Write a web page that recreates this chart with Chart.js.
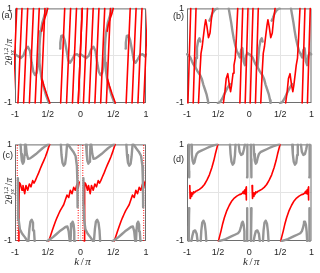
<!DOCTYPE html>
<html><head><meta charset="utf-8">
<script src="https://cdn.jsdelivr.net/npm/chart.js@4.4.0/dist/chart.umd.min.js"></script>
<style>
html,body{margin:0;padding:0;background:#fff;}
#wrap{position:relative;width:320px;height:273px;overflow:hidden;background:#fff;}
canvas{position:absolute;}
</style></head><body>
<div id="wrap">
<canvas id="ca" width="160" height="136" style="left:0;top:0;width:160px;height:136px"></canvas>
<canvas id="cb" width="160" height="136" style="left:160px;top:0;width:160px;height:136px"></canvas>
<canvas id="cc" width="160" height="137" style="left:0;top:136px;width:160px;height:137px"></canvas>
<canvas id="cd" width="160" height="137" style="left:160px;top:136px;width:160px;height:137px"></canvas>
</div>
<script>
// ---- axis ticks / labels ----
const xTickValues = [-1, -0.5, 0, 0.5, 1];
const xTickLabels = ['-1', '1/2', '0', '1/2', '1'];
const yTickValues = [-1, 0, 1];
const yTickLabels = ['-1', '', '1'];
const panelLabels = ['(a)', '(b)', '(c)', '(d)'];

// ---- panel (a): one period k in [-1,0] (repeated on the second period axis) ----
const aRedBottom = [-1.035, -0.955, -0.868, -0.78, -0.692, -0.605, -0.303, -0.213, -0.123, -0.035];
const aRedTop    = [-0.973, -0.893, -0.806, -0.718, -0.63, -0.543, -0.241, -0.151, -0.061, 0.027];
const aRedArcTop = [[-0.50,1.0],[-0.522,0.88],[-0.548,0.78],[-0.575,0.66],[-0.592,0.52]];
const aRedArcBottom = [[-0.585,-0.5],[-0.557,-0.64],[-0.52,-0.8],[-0.468,-1.0]];
const aGrayArc = [[-0.516,1],[-0.55,0.85],[-0.583,0.70],[-0.605,0.52],[-0.618,0.37],[-0.627,0.18],[-0.628,0.03],[-0.624,-0.15],[-0.613,-0.31],[-0.595,-0.48],[-0.567,-0.64],[-0.53,-0.82],[-0.481,-1.0]];
const aGrayWiggleL = [[-1.0,0.03],[-0.964,0.0],[-0.913,-0.05],[-0.873,0.0],[-0.837,0.13],[-0.802,0.19],[-0.771,0.10],[-0.746,-0.14],[-0.72,-0.34],[-0.695,-0.41],[-0.669,-0.36],[-0.649,-0.2],[-0.634,-0.04],[-0.628,0.03]];
const aGrayWiggleR = [[-0.312,0.15],[-0.308,0.27],[-0.293,0.42],[-0.267,0.43],[-0.242,0.33],[-0.211,0.10],[-0.186,-0.10],[-0.16,-0.15],[-0.125,-0.07],[-0.089,0.02],[-0.049,0.03],[-0.013,-0.02],[0.0,0.03]];

// ---- panel (b) ----
const bRedBottom = [-0.985, -0.90, -0.15, -0.065];
const bRedTop    = [-0.94, -0.855, -0.105, -0.02];
const bRedJagL = [[-0.815,-1],[-0.79,-0.3],[-0.775,0.05],[-0.755,0.2],[-0.74,0.37],[-0.715,0.64],[-0.70,0.76],[-0.68,0.62],[-0.655,0.38],[-0.63,0.48],[-0.61,0.75],[-0.585,1]];
const bRedJagR = [[-0.415,-1],[-0.39,-0.75],[-0.37,-0.48],[-0.345,-0.38],[-0.32,-0.62],[-0.30,-0.76],[-0.285,-0.64],[-0.26,-0.37],[-0.245,-0.2],[-0.225,-0.05],[-0.21,0.3],[-0.185,1]];
const bGrayL = [[-1.0,0.03],[-0.97,0.0],[-0.944,-0.04],[-0.92,-0.12],[-0.903,-0.17],[-0.867,-0.24],[-0.83,-0.33],[-0.79,-0.41],[-0.76,-0.5],[-0.738,-0.61],[-0.71,-0.72],[-0.687,-0.81],[-0.665,-0.94],[-0.658,-1]];
const bGrayBranch = [[-0.867,-0.24],[-0.855,-0.05],[-0.84,0.165],[-0.82,0.32],[-0.80,0.37],[-0.785,0.30]];
const bGrayTopArc = [[-0.64,0.74],[-0.62,0.8],[-0.59,0.9],[-0.56,0.96],[-0.53,0.99],[-0.51,1.0]];
const bGrayBottomArc = [[-0.505,-1],[-0.47,-0.98],[-0.43,-0.9],[-0.39,-0.78],[-0.35,-0.68],[-0.31,-0.6]];
const bGrayR = [[-0.33,1],[-0.31,0.85],[-0.29,0.70],[-0.27,0.52],[-0.25,0.37],[-0.225,0.22],[-0.2,0.1],[-0.17,0.02],[-0.15,-0.04],[-0.13,0.12],[-0.11,0.16],[-0.09,-0.12],[-0.07,-0.2],[-0.05,0.0],[-0.03,0.06],[-0.015,0.04],[0.0,0.03]];

// ---- panel (c) ----
const cRedDotted = [-0.965, -0.035];
const cRedL = [[-0.945,-1.0],[-0.94,-0.4],[-0.934,0.21],[-0.919,0.18],[-0.893,0.05],[-0.878,0.15],[-0.852,-0.02],[-0.832,0.15],[-0.806,0.05],[-0.781,0.18],[-0.756,0.12],[-0.73,0.25],[-0.71,0.2],[-0.69,0.25],[-0.665,0.33],[-0.639,0.41],[-0.613,0.5],[-0.588,0.58],[-0.562,0.66],[-0.537,0.74],[-0.51,0.84],[-0.486,0.94],[-0.47,1.0]];
const cRedR = [[-0.486,-1.0],[-0.46,-0.9],[-0.435,-0.8],[-0.41,-0.7],[-0.384,-0.6],[-0.36,-0.52],[-0.334,-0.44],[-0.31,-0.37],[-0.283,-0.31],[-0.257,-0.25],[-0.232,-0.15],[-0.206,-0.05],[-0.18,-0.1],[-0.155,0.05],[-0.13,-0.02],[-0.104,0.11],[-0.079,0.05],[-0.053,0.18],[-0.035,0.1],[-0.02,0.22]];
const cGrayEdgeL = [[-0.81,-1.0],[-0.85,-0.92],[-0.89,-0.85],[-0.925,-0.76],[-0.945,-0.55],[-0.952,-0.25],[-0.955,0.05],[-0.956,0.3]];
const cGrayEdgeR = [[-0.19,1.0],[-0.15,0.92],[-0.11,0.85],[-0.075,0.76],[-0.055,0.55],[-0.048,0.25],[-0.045,-0.05],[-0.044,-0.3]];
const cGrayU1 = [[-0.915,1.0],[-0.905,0.8],[-0.895,0.66],[-0.88,0.6],[-0.865,0.64],[-0.855,0.78],[-0.848,1.0]];
const cGrayU2 = [[-0.835,1.0],[-0.82,0.8],[-0.80,0.7],[-0.77,0.71],[-0.73,0.75],[-0.68,0.8],[-0.63,0.86],[-0.58,0.92],[-0.53,0.97],[-0.49,1.0]];
const cGrayU3 = [[-0.30,1.0],[-0.29,0.78],[-0.275,0.62],[-0.255,0.56],[-0.235,0.6],[-0.22,0.75],[-0.205,1.0]];
const cGrayU1b = [[-0.085,-1.0],[-0.095,-0.8],[-0.105,-0.66],[-0.12,-0.6],[-0.135,-0.64],[-0.145,-0.78],[-0.152,-1.0]];
const cGrayU2b = [[-0.165,-1.0],[-0.18,-0.8],[-0.20,-0.7],[-0.23,-0.71],[-0.27,-0.75],[-0.32,-0.8],[-0.37,-0.86],[-0.42,-0.92],[-0.47,-0.97],[-0.51,-1.0]];
const cGrayU3b = [[-0.70,-1.0],[-0.71,-0.78],[-0.725,-0.62],[-0.745,-0.56],[-0.765,-0.6],[-0.78,-0.75],[-0.795,-1.0]];

// ---- panel (d) ----
const dRedL = [[-0.955,0.15],[-0.95,-0.12],[-0.945,0.02],[-0.935,-0.08],[-0.925,0.0],[-0.91,-0.04],[-0.895,0.02],[-0.88,0.0],[-0.86,0.03],[-0.84,0.04],[-0.80,0.07],[-0.76,0.11],[-0.72,0.17],[-0.68,0.26],[-0.64,0.37],[-0.60,0.52],[-0.57,0.66],[-0.545,0.8],[-0.525,0.9],[-0.505,1.0]];
const dRedR = [[-0.495,-1.0],[-0.475,-0.9],[-0.455,-0.8],[-0.43,-0.66],[-0.40,-0.52],[-0.36,-0.37],[-0.32,-0.26],[-0.28,-0.17],[-0.24,-0.11],[-0.20,-0.07],[-0.16,-0.04],[-0.13,-0.03],[-0.11,-0.01],[-0.095,0.03],[-0.085,-0.02],[-0.07,0.06],[-0.06,-0.03],[-0.052,0.1],[-0.048,-0.15],[-0.045,0.12]];
const dGrayVL = [[-0.972,1.0],[-0.97,0.7],[-0.967,0.45],[-0.964,0.32]];
const dGrayVLb = [[-0.964,-0.32],[-0.967,-0.45],[-0.97,-0.7],[-0.972,-1.0]];
const dGrayVR = [[-0.028,-1.0],[-0.03,-0.7],[-0.033,-0.45],[-0.036,-0.32]];
const dGrayVRb = [[-0.036,0.32],[-0.033,0.45],[-0.03,0.7],[-0.028,1.0]];
const dGrayU1 = [[-0.93,1.0],[-0.922,0.8],[-0.91,0.66],[-0.895,0.6],[-0.88,0.63],[-0.865,0.72],[-0.845,0.8],[-0.82,0.84],[-0.77,0.87],[-0.72,0.9],[-0.67,0.93],[-0.62,0.96],[-0.57,0.98],[-0.52,1.0]];
const dGrayU1b = [[-0.07,-1.0],[-0.078,-0.8],[-0.09,-0.66],[-0.105,-0.6],[-0.12,-0.63],[-0.135,-0.72],[-0.155,-0.8],[-0.18,-0.84],[-0.23,-0.87],[-0.28,-0.9],[-0.33,-0.93],[-0.38,-0.96],[-0.43,-0.98],[-0.48,-1.0]];
const dGrayU2 = [[-0.31,1.0],[-0.3,0.8],[-0.285,0.64],[-0.265,0.58],[-0.245,0.62],[-0.23,0.78],[-0.22,1.0]];
const dGrayU2b = [[-0.69,-1.0],[-0.70,-0.8],[-0.715,-0.64],[-0.735,-0.58],[-0.755,-0.62],[-0.77,-0.78],[-0.78,-1.0]];
const dGrayU3 = [[-0.17,1.0],[-0.155,0.85],[-0.13,0.78],[-0.105,0.8],[-0.085,0.9],[-0.07,1.0]];
const dGrayU3b = [[-0.83,-1.0],[-0.845,-0.85],[-0.87,-0.78],[-0.895,-0.8],[-0.915,-0.9],[-0.93,-1.0]];

// ---- helpers ----
const RED = 'rgb(255,0,0)';
const GRAY = 'rgb(150,150,150)';
function lineCurves(bottoms, tops) { return bottoms.map((b, i) => [[b, -1], [tops[i], 1]]); }
function vertCurves(ks) { return ks.map(k => [[k, -1], [k, 1]]); }
function curveSets(curves, color, width, dash) {
  const out = [];
  for (const axis of ['x', 'xp']) {
    for (const c of curves) {
      out.push({
        data: c.map(p => ({x: p[0], y: p[1]})),
        xAxisID: axis, yAxisID: 'y', showLine: true,
        borderColor: color, backgroundColor: color, borderWidth: width,
        borderDash: dash || [], pointRadius: 0, pointHoverRadius: 0,
        fill: false, tension: 0, clip: 1,
        borderJoinStyle: 'round', borderCapStyle: dash ? 'butt' : 'round'
      });
    }
  }
  return out;
}

Chart.defaults.font.family = '"Liberation Sans", Arial, sans-serif';
Chart.defaults.color = '#262626';

function drawYLabel(ctx, cx, cy) {
  ctx.save();
  ctx.translate(cx, cy);
  ctx.rotate(-Math.PI / 2);
  ctx.fillStyle = '#262626';
  ctx.textBaseline = 'alphabetic';
  ctx.textAlign = 'left';
  const big = '9.5px "Liberation Serif"', bigI = 'italic 9.5px "Liberation Serif"';
  const sm = '6px "Liberation Serif"', smI = 'italic 6px "Liberation Serif"';
  ctx.font = big; const w2 = ctx.measureText('2').width;
  ctx.font = bigI; const wt = ctx.measureText('\u03b8').width;
  ctx.font = sm; const wsup = ctx.measureText('1,2').width;
  ctx.font = smI; const wsub = ctx.measureText('yz').width;
  ctx.font = big; const wsl = ctx.measureText('/').width;
  ctx.font = bigI; const wpi = ctx.measureText('\u03c0').width;
  const wstack = Math.max(wsup, wsub) + 1;
  const W = w2 + wt + wstack + wsl + wpi + 1;
  let x = -W / 2; const base = 3;
  ctx.font = big; ctx.fillText('2', x, base); x += w2;
  ctx.font = bigI; ctx.fillText('\u03b8', x, base); x += wt + 0.5;
  ctx.font = sm; ctx.fillText('1,2', x, base - 4);
  ctx.font = smI; ctx.fillText('yz', x, base + 2.5); x += wstack;
  ctx.font = big; ctx.fillText('/', x, base); x += wsl + 0.5;
  ctx.font = bigI; ctx.fillText('\u03c0', x, base);
  ctx.restore();
}
function drawKLabel(ctx, cx, baseY) {
  ctx.save();
  ctx.fillStyle = '#262626';
  ctx.textBaseline = 'alphabetic';
  ctx.textAlign = 'left';
  const fi = 'italic 11px "Liberation Serif"', fn = '11px "Liberation Serif"';
  ctx.font = fi; const wk = ctx.measureText('k').width; const wp = ctx.measureText('\u03c0').width;
  ctx.font = fn; const ws = ctx.measureText('/').width;
  const gap = 1.5;
  const W = wk + ws + wp + 2 * gap;
  let x = cx - W / 2;
  ctx.font = fi; ctx.fillText('k', x, baseY); x += wk + gap;
  ctx.font = fn; ctx.fillText('/', x, baseY); x += ws + gap;
  ctx.font = fi; ctx.fillText('\u03c0', x, baseY);
  ctx.restore();
}

function makeChart(id, cfg) {
  const gridColor = ctx => (ctx.tick && Math.abs(ctx.tick.value) === 1) ? 'rgba(0,0,0,0)' : 'rgb(228,228,228)';
  const deco = {
    id: 'deco',
    beforeDatasetsDraw(chart) {
      const {ctx, chartArea: a} = chart;
      ctx.save();
      ctx.strokeStyle = 'rgb(110,110,110)';
      ctx.lineWidth = 1;
      ctx.strokeRect(a.left + 0.5, a.top + 0.5, a.right - a.left - 1, a.bottom - a.top - 1);
      ctx.restore();
    },
    afterDraw(chart) {
      const {ctx, chartArea: a} = chart;
      ctx.save();
      ctx.fillStyle = '#262626';
      ctx.font = '9px "Liberation Sans"';
      ctx.textBaseline = 'middle';
      ctx.textAlign = 'left';
      ctx.fillText(cfg.label, cfg.labelX, cfg.labelY);
      ctx.restore();
      if (cfg.yLabel) drawYLabel(ctx, 8.5, cfg.yLabelY);
      if (cfg.kLabel) drawKLabel(ctx, (a.left + a.right) / 2 + 2, cfg.kLabelY);
    }
  };
  return new Chart(document.getElementById(id), {
    type: 'scatter',
    data: {datasets: cfg.datasets},
    options: {
      responsive: false, animation: false, devicePixelRatio: 1, events: [],
      layout: {padding: {left: 0, right: cfg.padRight, top: 4, bottom: 0}},
      plugins: {legend: {display: false}, tooltip: {enabled: false}},
      scales: {
        x: {
          type: 'linear', min: -1, max: 1, position: 'bottom',
          afterBuildTicks: s => { s.ticks = xTickValues.map(v => ({value: v})); },
          afterFit: s => { s.height = cfg.xAxisHeight; },
          ticks: {callback: (v, i) => xTickLabels[i], autoSkip: false, maxRotation: 0, minRotation: 0, padding: 6, font: {size: 9}, color: '#262626'},
          grid: {color: gridColor, lineWidth: 1, drawTicks: false},
          border: {display: false}
        },
        xp: {type: 'linear', min: -2, max: 0, display: false},
        y: {
          type: 'linear', min: -1, max: 1, position: 'left',
          afterBuildTicks: s => { s.ticks = yTickValues.map(v => ({value: v})); },
          afterFit: s => { s.width = cfg.yAxisWidth; },
          ticks: {callback: (v, i) => yTickLabels[i], autoSkip: false, padding: 3, font: {size: 9}, color: '#262626'},
          grid: {color: gridColor, lineWidth: 1, drawTicks: false},
          border: {display: false}
        }
      }
    },
    plugins: [deco]
  });
}

// panel (a)
makeChart('ca', {
  datasets: [].concat(
    curveSets(lineCurves(aRedBottom, aRedTop), RED, 1.6),
    curveSets([aRedArcTop, aRedArcBottom], RED, 1.6),
    curveSets([aGrayArc, aGrayWiggleL, aGrayWiggleR], GRAY, 2.4)
  ),
  yAxisWidth: 15, xAxisHeight: 33, padRight: 14,
  label: panelLabels[0], labelX: 1.5, labelY: 16, yLabel: true, yLabelY: 52
});
// panel (b)
makeChart('cb', {
  datasets: [].concat(
    curveSets(lineCurves(bRedBottom, bRedTop), RED, 1.6),
    curveSets([bRedJagL, bRedJagR], RED, 1.6),
    curveSets([bGrayL, bGrayBranch, bGrayTopArc, bGrayBottomArc, bGrayR], GRAY, 2.4)
  ),
  yAxisWidth: 27, xAxisHeight: 33, padRight: 3,
  label: panelLabels[1], labelX: 13, labelY: 17
});
// panel (c)
makeChart('cc', {
  datasets: [].concat(
    curveSets([cGrayEdgeL, cGrayEdgeR, cGrayU1, cGrayU2, cGrayU3, cGrayU1b, cGrayU2b, cGrayU3b], GRAY, 2.4),
    curveSets(vertCurves(cRedDotted), RED, 1, [1, 1.5]),
    curveSets([cRedL, cRedR], RED, 1.6)
  ),
  yAxisWidth: 15, xAxisHeight: 32, padRight: 14,
  label: panelLabels[2], labelX: 2.5, labelY: 20, yLabel: true, yLabelY: 55,
  kLabel: true, kLabelY: 129
});
// panel (d)
makeChart('cd', {
  datasets: [].concat(
    curveSets([dGrayVL, dGrayVLb, dGrayVR, dGrayVRb, dGrayU1, dGrayU1b, dGrayU2, dGrayU2b, dGrayU3, dGrayU3b], GRAY, 2.4),
    curveSets([dRedL, dRedR], RED, 1.6)
  ),
  yAxisWidth: 27, xAxisHeight: 32, padRight: 3,
  label: panelLabels[3], labelX: 13, labelY: 24,
  kLabel: true, kLabelY: 129
});
</script>
</body></html>
